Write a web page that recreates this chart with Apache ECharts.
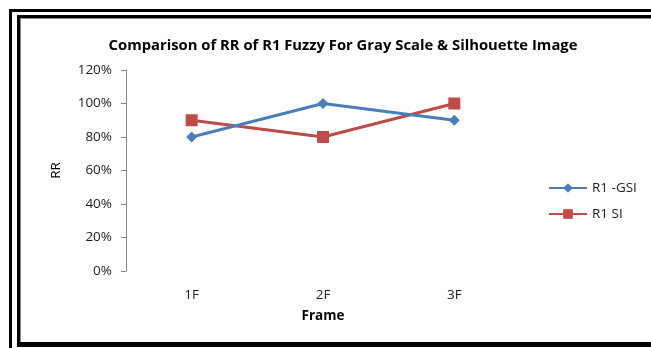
<!DOCTYPE html>
<html>
<head>
<meta charset="utf-8">
<script src="https://cdn.jsdelivr.net/npm/echarts@6/dist/echarts.min.js"></script>
<style>
  html, body { margin: 0; padding: 0; background: #fff; }
  #chart { width: 651px; height: 348px; }
</style>
</head>
<body>
<div id="chart"></div>
<script>
// Recognition rate per frame for the two image types
var frames = ['1F', '2F', '3F'];
var gsiValues = [0.8, 1.0, 0.9];
var siValues = [0.9, 0.8, 1.0];

var chart = echarts.init(document.getElementById('chart'));

// Framing lines around the chart area
function bar(x, y, w, h, color) {
  return { type: 'rect', shape: { x: x, y: y, width: w, height: h }, style: { fill: color }, silent: true };
}

var labelFont = { fontFamily: 'Open Sans', fontSize: 13.5, color: '#222' };

chart.setOption({
  animation: false,
  backgroundColor: '#fff',
  title: {
    text: 'Comparison of RR of R1 Fuzzy For Gray Scale & Silhouette Image',
    left: 338, top: 33, textAlign: 'center',
    textStyle: { fontFamily: 'Open Sans', fontSize: 14.8, fontWeight: 'bold', color: '#000' }
  },
  graphic: [
    bar(9, 9, 642, 3, '#000'),
    bar(9, 9, 3, 339, '#000'),
    bar(17, 15, 634, 3, '#000'),
    bar(17, 15, 3, 331, '#000'),
    bar(17, 342, 634, 5, '#000'),
    bar(20, 18, 631, 1, '#888'),
    bar(20, 18, 1, 324, '#888')
  ],
  legend: {
    orient: 'vertical',
    left: 543, top: 176,
    itemWidth: 38, itemHeight: 12, itemGap: 12,
    textStyle: labelFont,
    data: ['R1 -GSI', 'R1 SI']
  },
  grid: { left: 126, right: 131, top: 70, bottom: 77 },
  xAxis: {
    type: 'category',
    data: frames,
    name: 'Frame',
    nameLocation: 'middle',
    nameGap: 38,
    nameTextStyle: { fontFamily: 'Open Sans', fontSize: 13.5, fontWeight: 'bold', color: '#000' },
    axisLine: { show: false },
    axisTick: { show: false },
    axisLabel: Object.assign({ margin: 17 }, labelFont)
  },
  yAxis: {
    type: 'value',
    min: 0, max: 1.2, interval: 0.2,
    name: 'RR',
    nameLocation: 'middle',
    nameGap: 63,
    nameTextStyle: { fontFamily: 'Open Sans', fontSize: 13.5, color: '#000' },
    axisLine: { show: true, lineStyle: { color: '#868686', width: 1 } },
    axisTick: { show: true, length: 5, inside: false, lineStyle: { color: '#868686' } },
    splitLine: { show: false },
    axisLabel: Object.assign({
      margin: 14,
      formatter: function (v) { return Math.round(v * 100) + '%'; }
    }, labelFont)
  },
  series: [
    {
      name: 'R1 -GSI',
      type: 'line',
      data: gsiValues,
      symbol: 'diamond',
      symbolSize: 11,
      lineStyle: { color: '#4A7EBB', width: 3 },
      itemStyle: { color: '#4A7EBB' },
      z: 3
    },
    {
      name: 'R1 SI',
      type: 'line',
      data: siValues,
      symbol: 'rect',
      symbolSize: 12,
      lineStyle: { color: '#BE4B48', width: 3 },
      itemStyle: { color: '#BE4B48' },
      z: 2
    }
  ]
});
</script>
</body>
</html>
